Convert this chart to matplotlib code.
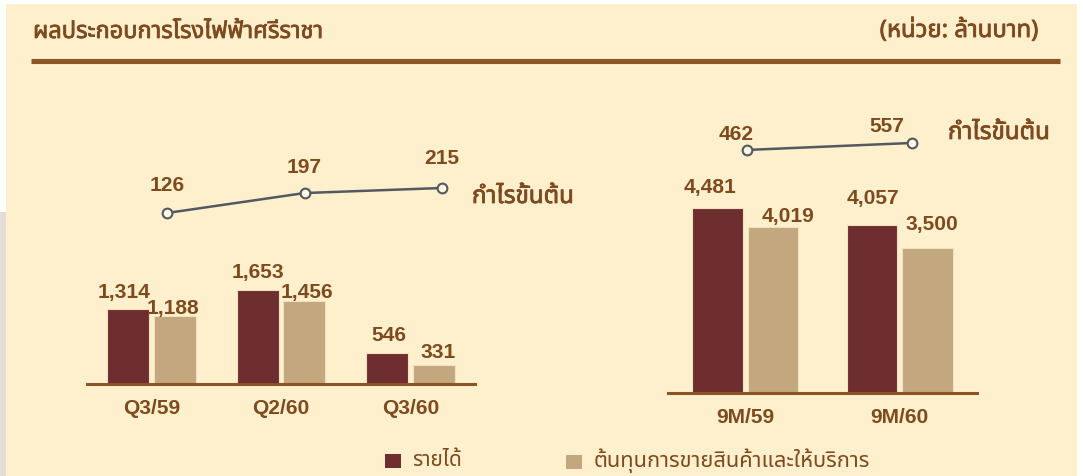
import matplotlib
matplotlib.use('Agg')
import matplotlib.pyplot as plt
from matplotlib import font_manager as fm
from matplotlib.patches import Rectangle
import matplotlib.patheffects as pe
import numpy as np

# ---------------- data ----------------
q_categories = ['Q3/59', 'Q2/60', 'Q3/60']
q_revenue = [1314, 1653, 546]
q_cost = [1188, 1456, 331]
q_gross = [126, 197, 215]

m_categories = ['9M/59', '9M/60']
m_revenue = [4481, 4057]
m_cost = [4019, 3500]
m_gross = [462, 557]

title_text = 'ผลประกอบการโรงไฟฟ้าศรีราชา'
unit_text = '(หน่วย: ล้านบาท)'
gross_text = 'กำไรขั้นต้น'
legend_labels = ['รายได้', 'ต้นทุนการขายสินค้าและให้บริการ']

# ---------------- fonts ----------------
def find_thai_family():
    try:
        from fontTools.ttLib import TTFont
    except Exception:
        return None
    found = []
    for path in fm.findSystemFonts():
        try:
            f = TTFont(path, fontNumber=0, lazy=True)
            cmap = f.getBestCmap()
            if cmap and 0x0E01 in cmap and 0x0E33 in cmap:
                found.append(path)
        except Exception:
            pass
    names = []
    for p in found:
        try:
            fm.fontManager.addfont(p)
            names.append(fm.FontProperties(fname=p).get_name())
        except Exception:
            pass
    pref = ['Tahoma', 'Leelawadee', 'Noto Sans Thai', 'Noto Sans Thai UI', 'Loma',
            'Garuda', 'Umpush', 'Waree', 'Sarabun', 'Kinnari', 'Norasi']
    for p in pref:
        if p in names:
            return p
    return names[0] if names else None

thai_family = find_thai_family()
num_family = ['Liberation Sans', 'DejaVu Sans']
thai_fam = ([thai_family] if thai_family else []) + ['DejaVu Sans']

# ---------------- colours ----------------
CREAM = '#FFF0CD'
MAROON = '#6E2D2F'
TAN = '#C2A77F'
BROWN_TXT = '#7E4A1F'
RULE = '#8B5526'
LINE_GREY = '#525960'
EDGE = '#F3E0BE'

W, H = 1083, 476
fig = plt.figure(figsize=(W / 100, H / 100), dpi=100, facecolor='white')

def fx(px):
    return px / W

def fy(py):
    return 1 - py / H

BOLDEN = [pe.withStroke(linewidth=0.55, foreground=BROWN_TXT)]

# background panel
fig.add_artist(Rectangle((fx(6), 0), fx(1077) - fx(6), fy(4), transform=fig.transFigure,
                         facecolor=CREAM, edgecolor='none', zorder=-10))
fig.add_artist(Rectangle((0, 0), fx(6), fy(212), transform=fig.transFigure,
                         facecolor='#E4DCDA', edgecolor='none', zorder=-10))

# header
fig.add_artist(plt.Line2D([fx(31), fx(1060)], [fy(60.5), fy(60.5)], transform=fig.transFigure,
                          color=RULE, linewidth=3.7, solid_capstyle='butt'))

texts_to_fit = []
t_title = fig.text(fx(33), fy(32), title_text, ha='left', va='center', color=BROWN_TXT,
                   fontsize=14, fontweight='bold', family=thai_fam, path_effects=BOLDEN)
texts_to_fit.append((t_title, 290))
t_unit = fig.text(fx(1039), fy(31), unit_text, ha='right', va='center', color=BROWN_TXT,
                  fontsize=14, fontweight='bold', family=thai_fam, path_effects=BOLDEN)
texts_to_fit.append((t_unit, 159))

NUM_FS = 15.1
BAR_W = 0.325
OFF = 0.18


def bar_panel(rect_px, baseline_px, ymax, cats, rev, cost, rev_offsets, cost_offsets):
    x0, x1, top = rect_px
    ax = fig.add_axes([fx(x0), fy(baseline_px), fx(x1) - fx(x0), fy(top) - fy(baseline_px)])
    ax.set_facecolor('none')
    x = np.arange(len(cats))
    ax.bar(x - OFF, rev, BAR_W, color=MAROON, edgecolor=EDGE, linewidth=0.8)
    ax.bar(x + OFF, cost, BAR_W, color=TAN, edgecolor=EDGE, linewidth=0.8)
    ax.set_xlim(-0.5, len(cats) - 0.5)
    ax.set_ylim(0, ymax)
    for s in ['top', 'left', 'right']:
        ax.spines[s].set_visible(False)
    ax.spines['bottom'].set_color(RULE)
    ax.spines['bottom'].set_linewidth(2.2)
    ax.set_xticks([])
    ax.set_yticks([])
    for i, (v, (dx, dy)) in enumerate(zip(rev, rev_offsets)):
        ax.annotate(f'{v:,}', (i - OFF, v), xytext=(dx * 0.72, dy * 0.72), textcoords='offset points',
                    ha='center', va='center', fontsize=NUM_FS, fontweight='bold',
                    color=BROWN_TXT, family=num_family)
    for i, (v, (dx, dy)) in enumerate(zip(cost, cost_offsets)):
        ax.annotate(f'{v:,}', (i + OFF, v), xytext=(dx * 0.72, dy * 0.72), textcoords='offset points',
                    ha='center', va='center', fontsize=NUM_FS, fontweight='bold',
                    color=BROWN_TXT, family=num_family)
    for i, c in enumerate(cats):
        ax.annotate(c, (i, 0), xytext=(0, -24.5 * 0.72), textcoords='offset points',
                    ha='center', va='center', fontsize=NUM_FS, fontweight='bold',
                    color=BROWN_TXT, family=num_family)
    return ax


def line_panel(x0, x1, zero_px, ymax, vals, offsets):
    ax = fig.add_axes([fx(x0), fy(zero_px), fx(x1) - fx(x0), fy(zero_px - 120) - fy(zero_px)])
    ax.set_facecolor('none')
    x = np.arange(len(vals))
    ax.plot(x, vals, color=LINE_GREY, linewidth=1.8, marker='o', markersize=7,
            markerfacecolor='#FFF7E4', markeredgecolor=LINE_GREY, markeredgewidth=1.5,
            clip_on=False)
    ax.set_xlim(-0.5, len(vals) - 0.5)
    ax.set_ylim(0, ymax)
    ax.axis('off')
    for i, (v, (dx, dy)) in enumerate(zip(vals, offsets)):
        ax.annotate(f'{v:,}', (i, v), xytext=(dx * 0.72, dy * 0.72), textcoords='offset points',
                    ha='center', va='center', fontsize=NUM_FS, fontweight='bold',
                    color=BROWN_TXT, family=num_family)
    return ax

# quarterly panel (pixel layout)
bar_panel((87, 475, 100), 383.5, 283.5 / 0.05655, q_categories, q_revenue, q_cost,
          [(-4, 17), (0, 18), (2, 17)], [(-2, 8), (3, 9), (5, 12)])
line_panel(98.25, 510.75, 248.4, 120 / 0.281, q_gross, [(0, 27), (0, 26), (0, 29)])

# nine-month panel
bar_panel((668, 977, 100), 392.7, 292.7 / 0.04122, m_categories, m_revenue, m_cost,
          [(-7, 20), (1, 27)], [(15, 11), (4, 24)])
line_panel(664.5, 994.5, 184, 120 / 0.0737, m_gross, [(-11, 15), (-25, 16)])

# gross-profit labels
t_g1 = fig.text(fx(472), fy(197), gross_text, ha='left', va='center', color=BROWN_TXT,
                fontsize=14, fontweight='bold', family=thai_fam, path_effects=BOLDEN)
texts_to_fit.append((t_g1, 102))
t_g2 = fig.text(fx(948), fy(133), gross_text, ha='left', va='center', color=BROWN_TXT,
                fontsize=14, fontweight='bold', family=thai_fam, path_effects=BOLDEN)
texts_to_fit.append((t_g2, 102))

# legend
fig.add_artist(Rectangle((fx(385), fy(468)), fx(401) - fx(385), fy(454) - fy(468),
                         transform=fig.transFigure, facecolor=MAROON, edgecolor='none'))
fig.add_artist(Rectangle((fx(566), fy(469)), fx(582) - fx(566), fy(455) - fy(469),
                         transform=fig.transFigure, facecolor=TAN, edgecolor='none'))
t_l1 = fig.text(fx(412), fy(461), legend_labels[0], ha='left', va='center', color=BROWN_TXT,
                fontsize=14, family=thai_fam)
texts_to_fit.append((t_l1, 50))
t_l2 = fig.text(fx(594), fy(461), legend_labels[1], ha='left', va='center', color=BROWN_TXT,
                fontsize=14, family=thai_fam)
texts_to_fit.append((t_l2, 277))

# fit Thai text widths to the reference
fig.canvas.draw()
r = fig.canvas.get_renderer()
for t, target in texts_to_fit:
    w = t.get_window_extent(r).width
    if w > 0:
        t.set_fontsize(t.get_fontsize() * target / w)

fig.savefig('out.png', dpi=100, facecolor='white')
